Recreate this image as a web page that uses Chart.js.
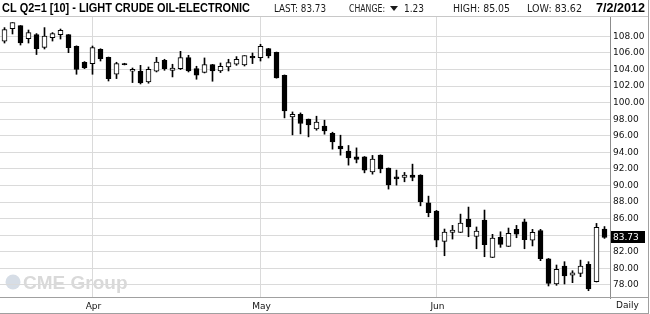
<!DOCTYPE html>
<html>
<head>
<meta charset="utf-8">
<script src="https://cdn.jsdelivr.net/npm/chart.js@4.4.0/dist/chart.umd.min.js"></script>
<style>
  html, body { margin: 0; padding: 0; background: #fff; }
  #wrap { width: 650px; height: 314px; position: relative; }
</style>
</head>
<body>
<div id="wrap"><canvas id="crudeChart"></canvas></div>
<script>
// trading days, 3/16/2012 .. 7/2/2012
const dates = [
  '3/16','3/19','3/20','3/21','3/22','3/23','3/26','3/27','3/28','3/29','3/30',
  '4/2','4/3','4/4','4/5','4/6','4/9','4/10','4/11','4/12','4/13','4/16','4/17','4/18','4/19','4/20',
  '4/23','4/24','4/25','4/26','4/27','4/30',
  '5/1','5/2','5/3','5/4','5/7','5/8','5/9','5/10','5/11','5/14','5/15','5/16','5/17','5/18',
  '5/21','5/22','5/23','5/24','5/25','5/29','5/30','5/31',
  '6/1','6/4','6/5','6/6','6/7','6/8','6/11','6/12','6/13','6/14','6/15','6/18','6/19','6/20','6/21','6/22',
  '6/25','6/26','6/27','6/28','6/29',
  '7/2'
];
const opens = [
  107.40, 108.93, 109.29, 107.72, 108.20, 106.67, 107.84, 108.20, 108.20, 106.80, 104.87,
  104.71, 106.43, 105.47, 103.42, 104.72, 103.78, 103.78, 102.49, 103.78, 105.11, 103.90, 104.10, 105.43, 104.10, 103.63,
  104.59, 103.82, 104.30, 104.63, 104.54, 105.59,
  105.43, 106.52, 106.07, 103.30, 98.28, 98.60, 98.00, 96.83, 97.16, 96.31, 94.75, 94.14, 93.46, 93.46,
  91.65, 93.66, 92.10, 91.05, 90.98, 91.25, 91.25, 87.92,
  86.92, 83.27, 84.35, 84.35, 85.95, 83.87, 85.83, 81.33, 83.75, 82.66, 84.71, 85.63, 83.42, 84.55, 81.17, 78.12,
  80.29, 79.17, 79.40, 80.50, 78.40,
  84.75
];
const highs = [
  109.05, 109.65, 109.30, 108.76, 108.33, 109.05, 108.45, 108.88, 108.22, 106.85, 104.95,
  106.83, 106.50, 105.50, 104.87, 104.75, 104.18, 104.50, 104.30, 105.47, 105.23, 104.63, 106.19, 105.71, 104.39, 105.39,
  104.62, 104.78, 105.23, 105.55, 105.67, 105.99,
  107.04, 106.55, 106.10, 103.34, 98.88, 98.76, 98.02, 98.36, 97.88, 96.43, 96.07, 94.83, 94.54, 93.50,
  93.63, 93.70, 92.12, 91.86, 91.58, 92.58, 91.30, 88.72,
  87.00, 84.75, 85.19, 86.55, 87.40, 85.00, 87.04, 84.11, 84.42, 84.87, 85.19, 85.95, 84.71, 84.71, 81.20, 80.41,
  80.81, 79.72, 81.00, 80.81, 85.43,
  85.05
];
const lows = [
  107.19, 108.28, 106.95, 107.19, 105.80, 106.47, 107.43, 107.67, 106.03, 103.42, 104.10,
  103.42, 105.02, 102.61, 102.90, 104.55, 102.42, 102.25, 102.34, 103.70, 103.90, 103.10, 103.99, 103.70, 102.82, 103.58,
  102.58, 103.63, 103.82, 104.50, 104.42, 104.71,
  105.02, 105.39, 102.95, 98.16, 96.11, 96.23, 95.87, 96.67, 96.19, 94.39, 93.66, 92.46, 92.73, 91.53,
  91.37, 91.53, 89.57, 90.05, 90.45, 90.57, 87.55, 86.23,
  82.61, 81.53, 83.54, 84.33, 83.82, 82.37, 81.41, 81.30, 82.54, 82.64, 83.70, 82.37, 82.71, 80.93, 77.88, 77.96,
  78.12, 78.28, 79.00, 77.31, 78.36,
  83.62
];
const closes = [
  108.81, 109.65, 107.19, 108.45, 106.52, 108.04, 108.33, 108.72, 106.63, 104.00, 104.18,
  106.63, 105.31, 102.90, 104.71, 104.58, 104.02, 102.37, 104.02, 104.90, 104.10, 104.18, 105.43, 103.82, 103.30, 104.59,
  103.82, 104.39, 104.83, 105.23, 105.67, 105.39,
  106.80, 105.63, 102.98, 98.99, 98.60, 97.48, 97.31, 97.64, 96.59, 95.27, 94.43, 93.34, 93.14, 91.86,
  93.18, 92.01, 90.08, 90.81, 91.25, 90.98, 88.04, 86.71,
  83.42, 84.39, 84.63, 85.47, 85.02, 84.51, 82.86, 83.66, 82.90, 84.23, 84.14, 83.46, 84.35, 81.17, 78.20, 79.89,
  79.08, 79.48, 80.29, 77.52, 84.96,
  83.73
];
const yTicks = [78, 80, 82, 84, 86, 88, 90, 92, 94, 96, 98, 100, 102, 104, 106, 108];
const monthStarts = ['4/2', '5/1', '6/1'];
const monthNames = ['Apr', 'May', 'Jun'];

const chartTitle = 'CL Q2=1 [10] - LIGHT CRUDE OIL-ELECTRONIC';
const lastPrice = 83.73;
const priceChange = 1.23;
const dayHigh = 85.05;
const dayLow = 83.62;
const quoteDate = '7/2/2012';

const smallFont = '"DejaVu Sans", sans-serif';
const boldFont = 'bold 13px "Liberation Sans Narrow", "Liberation Sans", Arial, sans-serif';

// watermark, header, last-price flag and frame
const decorations = {
  id: 'decorations',
  beforeDraw(chart) {
    const c = chart.ctx;
    c.save();
    c.fillStyle = '#d6dde6';
    c.beginPath();
    c.arc(13, 282, 7.5, 0, Math.PI * 2);
    c.fill();
    c.fillStyle = '#d9d9d9';
    c.font = 'bold 19px "Liberation Sans", Arial, sans-serif';
    c.textBaseline = 'alphabetic';
    c.fillText('CME Group', 23, 289);
    c.restore();
  },
  afterDraw(chart) {
    const c = chart.ctx;
    const yScale = chart.scales.y;
    c.save();
    c.textBaseline = 'alphabetic';

    // header
    c.fillStyle = '#000';
    c.font = boldFont;
    c.fillText(chartTitle, 2, 12, 248);
    c.fillText(quoteDate, 596, 12, 49);
    c.fillStyle = '#1a1a1a';
    c.font = '10px ' + smallFont;
    c.fillText('LAST: ' + lastPrice.toFixed(2), 274, 12, 52);
    c.fillText('CHANGE:', 349, 12, 36);
    c.fillText(priceChange.toFixed(2), 404, 12, 20);
    c.fillText('HIGH: ' + dayHigh.toFixed(2), 453, 12, 57);
    c.fillText('LOW: ' + dayLow.toFixed(2), 527, 12, 55);
    // down arrow
    c.beginPath();
    c.moveTo(390, 6); c.lineTo(398, 6); c.lineTo(394, 11);
    c.closePath();
    c.fill();

    // frame lines
    c.strokeStyle = '#c8c8c8';
    c.lineWidth = 1;
    c.beginPath();
    c.moveTo(0, 16.5); c.lineTo(648, 16.5);
    c.stroke();
    c.strokeStyle = '#a0a0a0';
    c.beginPath();
    c.moveTo(0, 297.5); c.lineTo(648, 297.5);
    c.moveTo(0, 313.5); c.lineTo(648, 313.5);
    c.moveTo(648.5, 0); c.lineTo(648.5, 314);
    c.stroke();

    // last price flag
    const py = Math.round(yScale.getPixelForValue(lastPrice));
    c.fillStyle = '#000';
    c.fillRect(611, py - 6, 34, 12);
    c.fillStyle = '#fff';
    c.font = '9px ' + smallFont;
    c.textBaseline = 'middle';
    c.fillText(lastPrice.toFixed(2), 613, py + 0.5);

    // period
    c.fillStyle = '#111';
    c.fillText('Daily', 616, 306);
    c.restore();
  }
};

const bodyColors = opens.map((o, i) => closes[i] >= o ? '#ffffff' : '#000000');

const ctx = document.getElementById('crudeChart').getContext('2d');
const crudeChart = new Chart(ctx, {
  type: 'bar',
  data: {
    datasets: [
      {
        label: 'Body',
        data: dates.map((d, i) => ({ x: i, y: [opens[i], closes[i]] })),
        backgroundColor: bodyColors,
        borderColor: '#000',
        borderWidth: 1,
        borderSkipped: false,
        barThickness: 5,
        grouped: false,
        order: 0
      },
      {
        label: 'Range',
        data: dates.map((d, i) => ({ x: i, y: [lows[i], highs[i]] })),
        backgroundColor: '#000',
        borderWidth: 0,
        barThickness: 1,
        grouped: false,
        order: 1
      }
    ]
  },
  options: {
    responsive: true,
    maintainAspectRatio: false,
    animation: false,
    layout: { padding: { top: 17, left: 0, right: 0, bottom: 0 } },
    plugins: {
      legend: { display: false },
      tooltip: { enabled: false },
      title: { display: false }
    },
    scales: {
      x: {
        type: 'linear',
        min: -0.5625,
        max: 75.6875,
        offset: false,
        grid: { color: '#dadada', offset: false, drawTicks: false },
        border: { display: false },
        afterBuildTicks: scale => {
          scale.ticks = monthStarts.map(d => ({ value: dates.indexOf(d) }));
        },
        afterFit: scale => { scale.height = 16; },
        ticks: {
          maxRotation: 0,
          autoSkip: false,
          padding: 3,
          labelOffset: 1,
          color: '#111',
          font: { family: smallFont, size: 9 },
          callback: (value, index) => monthNames[index]
        }
      },
      y: {
        position: 'right',
        min: 76.43,
        max: 110.33,
        grid: { color: '#dadada', drawTicks: false },
        border: { display: true, color: '#8c8c8c' },
        afterBuildTicks: scale => {
          scale.ticks = yTicks.map(v => ({ value: v }));
        },
        afterFit: scale => { scale.width = 40; },
        ticks: {
          padding: 3,
          color: '#111',
          font: { family: smallFont, size: 9 },
          callback: value => value.toFixed(2)
        }
      }
    }
  },
  plugins: [decorations]
});
</script>
</body>
</html>
